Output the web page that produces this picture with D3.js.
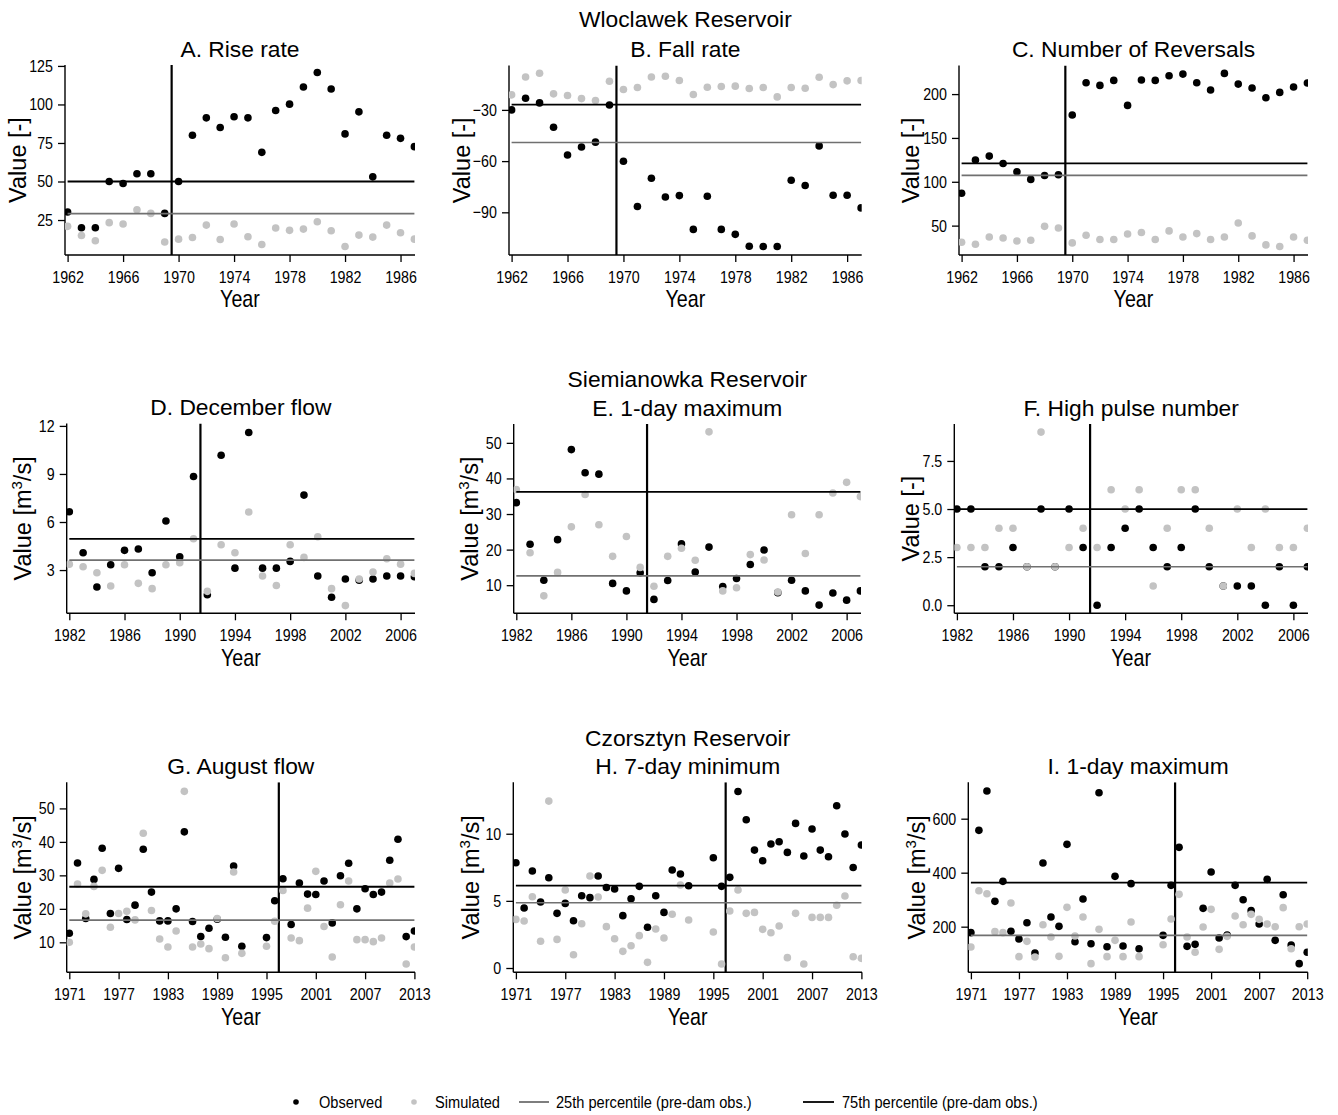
<!DOCTYPE html>
<html><head><meta charset="utf-8">
<script src="https://cdn.jsdelivr.net/npm/d3@7"></script>
<style>
body{margin:0;background:#fff}
svg{display:block}
text{font-family:"Liberation Sans",Arial,Helvetica,sans-serif;fill:#000}
</style>
</head><body>
<svg id="chart" width="1338" height="1115"></svg>
<script>
// ---------- data ----------
const yearsW = [1962,1963,1964,1965,1966,1967,1968,1969,1970,1971,1972,1973,1974,1975,1976,1977,1978,1979,1980,1981,1982,1983,1984,1985,1986,1987];
const yearsS = [1982,1983,1984,1985,1986,1987,1988,1989,1990,1991,1992,1993,1994,1995,1996,1997,1998,1999,2000,2001,2002,2003,2004,2005,2006,2007];
const yearsC = [1971,1972,1973,1974,1975,1976,1977,1978,1979,1980,1981,1982,1983,1984,1985,1986,1987,1988,1989,1990,1991,1992,1995,1996,1997,1998,1999,2000,2001,2002,2003,2004,2005,2006,2007,2008,2009,2010,2011,2012,2013];

const xTicksW = [1962,1966,1970,1974,1978,1982,1986];
const xTicksS = [1982,1986,1990,1994,1998,2002,2006];
const xTicksC = [1971,1977,1983,1989,1995,2001,2007,2013];

// A. Rise rate
const obsA = [30.2,20,20,50,48.7,55,55,29.3,50,80,91.3,85,92,91.3,68.9,96.1,100.2,111.3,120.7,110,80.9,95.2,53,80,78,72.6];
const simA = [20.9,15,11.5,23.3,22.4,31.7,29.3,10.7,12.6,13.7,21.7,12.4,22.4,14.1,9.1,19.8,18.3,19.1,23.9,18,7.8,15.2,13.9,21.7,16.7,12.6];
// B. Fall rate
const obsB = [-30,-23.2,-25.9,-40.2,-56.4,-51.7,-48.9,-27.1,-60.1,-86.6,-70,-81,-80.2,-100,-80.6,-100,-102.9,-109.9,-110,-110,-71.2,-74.3,-51.1,-80,-80,-87.4];
const simB = [-21.2,-10.7,-8.5,-20.6,-21.6,-23.4,-24.5,-13.2,-18.1,-16.9,-10.7,-10.3,-12.8,-21,-16.7,-16.3,-16.1,-17.5,-16.9,-22.4,-16.9,-17.3,-10.9,-15.2,-13,-12.8];
// C. Number of reversals
const obsC = [87,124.7,129.3,120.9,111.4,102.7,107.2,108,176.1,212.9,209.9,215.6,187.1,216,215.6,220.9,222.8,212.9,204.6,223.6,211.4,206.9,195.8,201.9,208,212.6];
const simC = [31,28.8,37.1,35.9,32.5,33.3,49.2,47.3,30.3,39,34.1,34.1,40.5,42.1,34.1,44,37.1,40.9,34.1,37.1,53,38.3,28,26.2,37.1,33.3];
// D. December flow
const obsD = [6.64,4.08,1.94,3.33,4.23,4.31,2.83,6.06,3.83,8.84,1.46,10.17,3.12,11.59,3.12,3.12,3.54,7.68,2.63,1.3,2.44,2.36,2.44,2.63,2.63,2.58];
const simD = [3.37,3.21,2.83,2,3.33,2.17,1.84,3.33,3.46,4.95,1.67,4.58,4.08,6.62,2.63,2.04,4.58,3.79,5.08,1.84,0.78,2.44,2.88,3.71,3.37,2.79];
// E. 1-day maximum (Siemianowka)
const obsE = [33.2,21.5,11.4,22.8,48.1,41.6,41.2,10.5,8.4,13.5,6,11.3,21.6,13.7,20.7,9.6,11.9,15.8,19.9,7.9,11.4,8.4,4.4,7.8,5.8,8.4];
const simE = [36.9,19.1,7,13.6,26.4,35.5,27,18.1,23.7,15,9.7,18.1,20.4,17,53.1,8.4,9.3,18.6,17.1,8.1,29.8,18.9,29.8,35.9,38.9,34.9];
// F. High pulse number
const obsF = [5,5,2,2,3,2,5,2,5,3,0,3,4,5,3,2,3,5,2,1,1,1,0,2,0,2];
const simF = [3,3,3,4,4,2,9,2,3,4,3,6,5,6,1,4,6,6,4,1,5,3,5,3,3,4];
// G. August flow
const obsG = [12.7,33.7,17.1,28.8,38.1,18.6,32.1,16.8,21.1,37.8,25,16.4,16.4,20,43,16.2,11.7,14.2,16.9,11.5,32.8,8.8,11.4,22.4,29,15.3,27.7,24.4,24.3,28.3,15.8,29.9,33.6,20,26,24.3,25,34.5,40.8,11.7,13.4];
const simG = [10,27.4,18.5,26.7,31.5,14.5,18.6,19.3,16.7,42.6,19.5,11,8.6,13.4,55.1,8.6,9.5,8.1,17.1,5.4,31,6.7,8.8,16.3,25.5,11.3,10.5,20.2,31.2,14.7,5.6,21.2,28.3,10.8,10.8,10.2,11.3,27.7,28.9,3.5,8.6];
// H. 7-day minimum
const obsH = [7.84,4.47,7.22,4.91,6.72,4.07,4.81,3.52,5.38,5.24,6.85,6,5.88,3.9,5.16,6.08,3.03,5.38,4.14,7.3,7,6.13,8.21,6.08,6.75,13.15,11.04,8.78,7.99,9.23,9.4,8.61,10.77,8.34,10.35,8.78,8.29,12.08,9.98,7.49,9.16];
const simH = [3.62,3.5,5.31,1.99,12.43,2.13,5.81,0.99,3.3,6.85,5.29,3.08,2.18,1.24,1.66,2.41,0.42,2.9,2.23,4,6.18,3.57,2.68,0.3,4.24,5.81,4.07,4.14,2.88,2.63,3.13,0.77,4.07,0.3,3.77,3.77,3.77,4.67,5.36,0.84,0.72];
// I. 1-day maximum (Czorsztyn)
const obsI = [177.8,556.8,702.5,293.8,367.9,182.7,154.3,214.8,102.5,435.8,235.8,201.2,504.9,144.4,302.5,137,696.3,125.9,386.4,128.4,359.3,118.5,167.9,353.1,493.8,127.2,134.6,267.9,402.5,158,169.1,353.1,300,259.3,209.9,375.3,149.4,318.5,132.1,63,105];
const simI = [124.7,333.3,322.2,181.5,177.8,287.7,88.9,145.7,87.7,207.4,161.7,90.1,271.6,165.4,235.8,63,190.1,88.9,149.4,88.9,217.3,88.9,133.3,228.4,319.8,161.7,105,198.8,264.2,116,164.2,239.5,207.4,245.7,227.2,209.9,200,270.4,118.5,200,209.9];

// percentiles (pre-dam obs.) and dam years
const p25 = {A:29.1, B:-49.1, C:107.2, D:3.62, E:12.6, F:2, G:16.6, H:4.86, I:167.9};
const p75 = {A:50, B:-26.9, C:120.9, D:4.95, E:36.2, F:5, G:26.6, H:6.13, I:363};
const damYear = {A:1969.5, B:1969.5, C:1969.5, D:1991.5, E:1991.5, F:1991.5, G:1996.5, H:1996.5, I:1996.5};

const yTicks = {A:[25,50,75,100,125], B:[-90,-60,-30], C:[50,100,150,200], D:[3,6,9,12], E:[10,20,30,40,50], F:[0,2.5,5,7.5], G:[10,20,30,40,50], H:[0,5,10], I:[200,400,600]};

const titles = {A:"A. Rise rate", B:"B. Fall rate", C:"C. Number of Reversals", D:"D. December flow", E:"E. 1-day maximum", F:"F. High pulse number", G:"G. August flow", H:"H. 7-day minimum", I:"I. 1-day maximum"};
const reservoirs = ["Wloclawek Reservoir","Siemianowka Reservoir","Czorsztyn Reservoir"];
const legendLabels = ["Observed","Simulated","25th percentile (pre-dam obs.)","75th percentile (pre-dam obs.)"];

// ---------- layout (positions only) ----------
const layout = {
  A:{l:65,   r:415,   t:65,  b:255, yd:[2.3,125.6],  lab:47.5},
  B:{l:509,  r:861.7, t:65.5,b:255, yd:[-115,-4],    lab:47},
  C:{l:959,  r:1308,  t:65.5,b:255, yd:[16.5,232.6], lab:48},
  D:{l:66.7, r:415,   t:423.5,b:613.3, yd:[0.3,12.15], lab:44},
  E:{l:513.7,r:861,   t:424, b:613.3, yd:[2.1,55.3],  lab:44},
  F:{l:954.3,r:1308,  t:424, b:613.3, yd:[-0.42,9.42],lab:44},
  G:{l:66.7, r:415,   t:782.3,b:972.3, yd:[1.04,57.8], lab:44},
  H:{l:513.3,r:862,   t:782.3,b:972.3, yd:[-0.32,13.83],lab:43},
  I:{l:968.3,r:1307.8,t:782.3,b:972.3, yd:[31,734.8], lab:52}
};

const panels = [
  {id:"A", years:yearsW, obs:obsA, sim:simA, xt:xTicksW, unit:false},
  {id:"B", years:yearsW, obs:obsB, sim:simB, xt:xTicksW, unit:false},
  {id:"C", years:yearsW, obs:obsC, sim:simC, xt:xTicksW, unit:false},
  {id:"D", years:yearsS, obs:obsD, sim:simD, xt:xTicksS, unit:true},
  {id:"E", years:yearsS, obs:obsE, sim:simE, xt:xTicksS, unit:true},
  {id:"F", years:yearsS, obs:obsF, sim:simF, xt:xTicksS, unit:false, fmt:".1f"},
  {id:"G", years:yearsC, obs:obsG, sim:simG, xt:xTicksC, unit:true},
  {id:"H", years:yearsC, obs:obsH, sim:simH, xt:xTicksC, unit:true},
  {id:"I", years:yearsC, obs:obsI, sim:simI, xt:xTicksC, unit:true}
];

const OBS_COL = "#000000", SIM_COL = "#c3c3c3", P25_COL = "#707070", P75_COL = "#000000";
const R = 3.8;
const SX = 0.84;   // horizontal condensing of tick labels / x titles
const TITLE_FS = 22.8;

function condense(sel, sx) {
  sel.each(function() {
    const t = d3.select(this);
    const x = +(t.attr("x") || 0);
    t.attr("x", x / sx).attr("transform", `scale(${sx},1)`);
  });
}

const svg = d3.select("#chart");
const defs = svg.append("defs");

panels.forEach(p => {
  const L = layout[p.id];
  const yr = p.years;
  const x = d3.scaleLinear().domain([yr[0], yr[yr.length-1]]).range([L.l + 2.6, L.r - 0.6]);
  const y = d3.scaleLinear().domain(L.yd).range([L.b, L.t]);
  const g = svg.append("g");

  defs.append("clipPath").attr("id","clip"+p.id)
    .append("rect").attr("x",L.l).attr("y",L.t).attr("width",L.r-L.l).attr("height",L.b-L.t);

  // axes
  const xAxis = d3.axisBottom(x).tickValues(p.xt).tickSize(7).tickPadding(9).tickFormat(d3.format("d"));
  const ax = g.append("g").attr("transform",`translate(0,${L.b})`).call(xAxis);
  ax.select(".domain").remove();
  ax.append("line").attr("x1",L.l).attr("x2",L.r).attr("y1",0).attr("y2",0).attr("stroke","#000").attr("stroke-width",1.4);
  ax.selectAll(".tick line").attr("stroke","#000").attr("stroke-width",1.3);
  ax.selectAll(".tick text").attr("font-size",17).attr("font-family","Liberation Sans, Arial, sans-serif").attr("fill","#000")
    .call(condense, SX);

  const yAxis = d3.axisLeft(y).tickValues(yTicks[p.id]).tickSize(7).tickPadding(5)
    .tickFormat(p.fmt ? d3.format(p.fmt) : d3.format("d"));
  const ay = g.append("g").attr("transform",`translate(${L.l},0)`).call(yAxis);
  ay.select(".domain").remove();
  ay.append("line").attr("x1",0).attr("x2",0).attr("y1",L.t).attr("y2",L.b).attr("stroke","#000").attr("stroke-width",1.4);
  ay.selectAll(".tick line").attr("stroke","#000").attr("stroke-width",1.3);
  ay.selectAll(".tick text").attr("font-size",17).attr("font-family","Liberation Sans, Arial, sans-serif").attr("fill","#000")
    .call(condense, SX);

  const plot = g.append("g").attr("clip-path",`url(#clip${p.id})`);

  // dam line
  plot.append("line").attr("x1",x(damYear[p.id])).attr("x2",x(damYear[p.id]))
    .attr("y1",L.t).attr("y2",L.b).attr("stroke","#000").attr("stroke-width",2.2);

  // observed then simulated
  plot.selectAll(".obs").data(yr.map((d,i)=>({yr:d,v:p.obs[i]}))).enter().append("circle")
    .attr("cx",d=>x(d.yr)).attr("cy",d=>y(d.v)).attr("r",R).attr("fill",OBS_COL);
  plot.selectAll(".sim").data(yr.map((d,i)=>({yr:d,v:p.sim[i]}))).enter().append("circle")
    .attr("cx",d=>x(d.yr)).attr("cy",d=>y(d.v)).attr("r",R).attr("fill",SIM_COL);

  // percentile lines
  plot.append("line").attr("x1",x(yr[0])).attr("x2",x(yr[yr.length-1]))
    .attr("y1",y(p25[p.id])).attr("y2",y(p25[p.id])).attr("stroke",P25_COL).attr("stroke-width",1.7);
  plot.append("line").attr("x1",x(yr[0])).attr("x2",x(yr[yr.length-1]))
    .attr("y1",y(p75[p.id])).attr("y2",y(p75[p.id])).attr("stroke",P75_COL).attr("stroke-width",1.8);

  // panel title
  const cx = (L.l + L.r)/2;
  g.append("text").attr("x",cx).attr("y",L.t - 8.5).attr("text-anchor","middle")
    .attr("font-size",TITLE_FS).text(titles[p.id]);

  // x title
  g.append("text").attr("x",cx).attr("y",L.b + 52.5).attr("text-anchor","middle")
    .attr("font-size",24).text("Year").call(condense, 0.82);

  // y title
  const ylab = g.append("text")
    .attr("transform",`translate(${L.l - L.lab},${(L.t+L.b)/2}) rotate(-90)`)
    .attr("text-anchor","middle").attr("dy","0.36em").attr("font-size",23.5);
  if (p.unit) {
    ylab.append("tspan").text("Value [m");
    ylab.append("tspan").attr("font-size",15).attr("dy",-9).text("3");
    ylab.append("tspan").attr("dy",9).text("/s]");
  } else {
    ylab.text("Value [-]");
  }
});

// reservoir titles over the middle column
[["B",26.5],["E",386.5],["H",746]].forEach((d,i)=>{
  const L = layout[d[0]];
  svg.append("text").attr("x",(L.l+L.r)/2).attr("y",d[1]).attr("text-anchor","middle")
    .attr("font-size",TITLE_FS).text(reservoirs[i]);
});

// legend
const lg = svg.append("g").attr("transform","translate(0,1102)");
const legText = (xp, s) => lg.append("text").attr("x",xp).attr("y",0).attr("dy","0.36em")
  .attr("font-size",17).text(s).call(condense, 0.86);
lg.append("circle").attr("cx",296).attr("cy",0).attr("r",2.8).attr("fill",OBS_COL);
legText(319, legendLabels[0]);
lg.append("circle").attr("cx",414).attr("cy",0).attr("r",2.8).attr("fill",SIM_COL);
legText(435, legendLabels[1]);
lg.append("line").attr("x1",519).attr("x2",549).attr("y1",0).attr("y2",0).attr("stroke",P25_COL).attr("stroke-width",1.8);
legText(556, legendLabels[2]);
lg.append("line").attr("x1",803).attr("x2",834).attr("y1",0).attr("y2",0).attr("stroke",P75_COL).attr("stroke-width",1.8);
legText(842, legendLabels[3]);
</script>
</body></html>
